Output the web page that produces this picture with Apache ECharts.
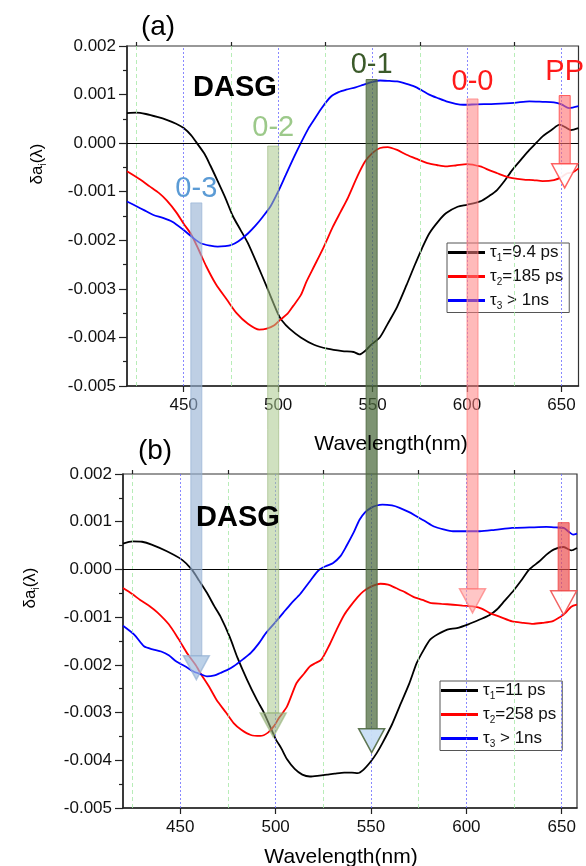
<!DOCTYPE html>
<html>
<head>
<meta charset="utf-8">
<script src="https://cdn.jsdelivr.net/npm/echarts@6/dist/echarts.min.js"></script>
<style>
html, body { margin: 0; padding: 0; background: #fff; }
#chart { width: 586px; height: 866px; }
</style>
</head>
<body>
<div id="chart"></div>
<script>
// amplitudes are in units of 1e-3, wavelengths in nm
const xMajor = [450, 500, 550, 600, 650];
const xMinor = [425, 475, 525, 575, 625];

// panel (a)
const aWave1 = [420, 425, 430, 436, 441, 446, 450, 454, 457, 461, 464, 468, 472, 476, 480, 484, 489, 494, 500, 502, 506, 512, 519, 526, 534, 540, 543, 546, 549, 554, 558, 563, 568, 572, 576, 580, 585, 589, 595, 600, 607, 612, 616, 620, 624, 629, 633, 637, 640, 645, 649, 652, 655, 659];
const aVal1 = [0.62, 0.63, 0.6, 0.54, 0.48, 0.4, 0.31, 0.16, 0.0, -0.22, -0.45, -0.78, -1.12, -1.5, -1.78, -2.06, -2.5, -2.96, -3.52, -3.65, -3.82, -4.0, -4.15, -4.23, -4.28, -4.3, -4.35, -4.28, -4.16, -3.99, -3.72, -3.37, -2.92, -2.54, -2.18, -1.86, -1.6, -1.44, -1.31, -1.27, -1.2, -1.08, -0.96, -0.77, -0.55, -0.32, -0.14, 0.02, 0.14, 0.28, 0.38, 0.33, 0.27, 0.31];
const aWave2 = [420, 427, 432, 437, 441, 446, 450, 454, 458, 462, 467, 473, 478, 484, 490, 494, 498, 501, 505, 508, 512, 515, 519, 524, 529, 533, 537, 542, 546, 550, 554, 558, 563, 568, 573, 579, 584, 589, 594, 600, 607, 612, 616, 620, 624, 630, 635, 640, 646, 650, 653, 656, 659];
const aVal2 = [-0.58, -0.75, -0.89, -1.03, -1.18, -1.42, -1.66, -1.88, -2.2, -2.54, -2.9, -3.23, -3.5, -3.72, -3.84, -3.82, -3.75, -3.64, -3.51, -3.35, -3.13, -2.85, -2.54, -2.15, -1.72, -1.42, -1.12, -0.68, -0.38, -0.2, -0.1, -0.08, -0.14, -0.24, -0.32, -0.41, -0.45, -0.48, -0.46, -0.43, -0.48, -0.56, -0.62, -0.68, -0.72, -0.75, -0.76, -0.78, -0.76, -0.7, -0.62, -0.6, -0.52];
const aWave3 = [420, 425, 429, 434, 439, 444, 450, 455, 459, 464, 468, 472, 475, 479, 484, 488, 492, 496, 500, 504, 508, 512, 516, 519, 523, 528, 532, 536, 541, 545, 550, 554, 559, 563, 568, 572, 576, 580, 585, 589, 594, 598, 605, 615, 625, 633, 640, 646, 650, 654, 659];
const aVal3 = [-1.2, -1.3, -1.38, -1.48, -1.54, -1.62, -1.79, -1.95, -2.06, -2.11, -2.13, -2.12, -2.1, -2.02, -1.86, -1.7, -1.51, -1.3, -1.0, -0.66, -0.32, 0.0, 0.3, 0.48, 0.72, 0.96, 1.05, 1.1, 1.15, 1.2, 1.26, 1.29, 1.28, 1.27, 1.22, 1.17, 1.09, 1.0, 0.92, 0.86, 0.81, 0.79, 0.8, 0.81, 0.83, 0.86, 0.85, 0.84, 0.8, 0.72, 0.76];

// panel (b)
const bWave1 = [420, 425, 430, 435, 443, 451, 456, 460, 464, 468, 471, 476, 480, 485, 490, 494, 500, 503, 506, 510, 514, 518, 523, 527, 531, 536, 540, 543, 546, 550, 553, 556, 561, 565, 570, 574, 578, 581, 585, 590, 595, 601, 607, 612, 616, 620, 625, 629, 633, 638, 642, 646, 651, 655, 658];
const bVal1 = [0.54, 0.59, 0.58, 0.52, 0.38, 0.2, 0.0, -0.24, -0.49, -0.78, -0.98, -1.42, -1.85, -2.31, -2.72, -3.01, -3.55, -3.75, -3.98, -4.18, -4.3, -4.34, -4.32, -4.3, -4.28, -4.26, -4.26, -4.27, -4.2, -4.02, -3.85, -3.64, -3.25, -2.87, -2.4, -1.96, -1.66, -1.47, -1.36, -1.26, -1.23, -1.15, -1.05, -0.96, -0.84, -0.66, -0.43, -0.22, 0.0, 0.16, 0.31, 0.42, 0.47, 0.4, 0.45];
const bWave2 = [420, 425, 429, 434, 438, 444, 449, 454, 458, 461, 465, 469, 474, 478, 482, 487, 492, 496, 499, 502, 506, 511, 515, 518, 521, 524, 528, 532, 536, 539, 543, 546, 550, 555, 559, 563, 568, 572, 577, 581, 587, 593, 598, 604, 608, 612, 618, 624, 630, 635, 640, 645, 649, 652, 655, 658];
const bVal2 = [-0.39, -0.52, -0.64, -0.77, -0.9, -1.15, -1.45, -1.78, -2.0, -2.2, -2.45, -2.73, -3.0, -3.22, -3.36, -3.47, -3.49, -3.42, -3.29, -3.1, -2.87, -2.38, -2.18, -2.03, -1.96, -1.89, -1.6, -1.26, -0.95, -0.78, -0.58, -0.46, -0.36, -0.3, -0.32, -0.39, -0.48, -0.57, -0.64, -0.7, -0.72, -0.74, -0.76, -0.78, -0.82, -0.91, -1.0, -1.09, -1.12, -1.14, -1.12, -1.09, -1.0, -0.91, -0.78, -0.74];
const bWave3 = [420, 426, 431, 436, 440, 444, 448, 453, 457, 461, 464, 468, 471, 475, 478, 483, 487, 491, 495, 500, 504, 508, 513, 517, 520, 523, 527, 530, 534, 537, 541, 544, 547, 550, 553, 556, 561, 565, 570, 574, 578, 583, 588, 593, 600, 607, 615, 624, 633, 642, 647, 651, 654, 656, 658];
const bVal3 = [-1.18, -1.37, -1.61, -1.68, -1.72, -1.8, -1.93, -2.04, -2.14, -2.2, -2.24, -2.22, -2.17, -2.1, -2.03, -1.88, -1.75, -1.56, -1.33, -1.1, -0.91, -0.72, -0.51, -0.3, -0.14, 0.0, 0.08, 0.13, 0.28, 0.48, 0.78, 1.04, 1.2, 1.29, 1.34, 1.36, 1.34, 1.29, 1.2, 1.11, 1.02, 0.9, 0.84, 0.8, 0.8, 0.8, 0.83, 0.87, 0.88, 0.89, 0.88, 0.87, 0.78, 0.73, 0.75];

const namesA = ['τ1=9.4 ps', 'τ2=185 ps', 'τ3 > 1ns'];
const namesB = ['τ1=11 ps', 'τ2=258 ps', 'τ3 > 1ns '];
const lineColors = ['#000000', '#ff0000', '#0000ff'];

// vibronic arrows: wavelength, start (grid, value) and tip (grid, value)
const arrowNames = ['0-3', '0-2', '0-1', '0-0', 'PP', ''];
const arrowWave = [456.7, 497.4, 549.5, 602.9, 651.7, 651];
const arrowFromGrid = [0, 0, 0, 0, 0, 1];
const arrowFromVal = [-1.23, -0.06, 1.31, 0.91, 0.98, 0.98];
const arrowToGrid = [1, 1, 1, 1, 0, 1];
const arrowToVal = [-2.31, -3.51, -3.84, -0.91, -0.92, -0.95];
const arrowLabelGap = [14, 18, 15, 17, 24, 0];
const arrowShaft = ['rgba(150,178,212,0.62)', 'rgba(170,200,140,0.55)', 'rgba(75,105,60,0.72)', 'rgba(255,130,130,0.55)', 'rgba(255,110,110,0.6)', 'rgba(235,80,80,0.7)'];
const arrowHead = ['rgba(160,190,222,0.7)', 'rgba(150,175,125,0.6)', 'rgba(200,222,245,0.95)', 'rgba(255,160,160,0.6)', 'rgba(255,255,255,0.9)', 'rgba(255,255,255,0.9)'];
const arrowEdge = ['rgba(150,178,212,0.7)', 'rgba(150,180,120,0.6)', 'rgba(80,105,65,0.9)', 'rgba(255,120,120,0.7)', 'rgba(255,70,70,0.85)', 'rgba(240,70,70,0.85)'];
const labelColors = ['#5b9bd5', '#9cc98a', '#3b5a2a', '#ff1a1a', '#ff1a1a', '#ff1a1a'];

const font = '"Liberation Sans", Arial, sans-serif';
const rich = {
  t: { fontSize: 17, fontFamily: font, color: '#111', lineHeight: 22 },
  s: { fontSize: 10, fontFamily: font, color: '#111', lineHeight: 10, verticalAlign: 'bottom' }
};

function richName(name) {
  const m = name.trim().match(/^τ(\d)(.*)$/);
  return '{t|τ}{s|' + m[1] + '}{t|' + m[2] + '}';
}

function pairs(w, v) {
  return w.map((x, i) => [x, v[i]]);
}

const tickStyle = { color: '#222', width: 1.2 };

function xAxes(gi, max) {
  return [{
    type: 'value', gridIndex: gi, min: 420, max: max,
    axisLine: { onZero: false, lineStyle: { color: '#222', width: 1.5 } },
    axisTick: { customValues: xMajor, length: 6, lineStyle: tickStyle },
    axisLabel: { customValues: xMajor, color: '#111', fontSize: 17, fontFamily: font, margin: 11 },
    splitLine: { show: false }
  }, {
    type: 'value', gridIndex: gi, min: 420, max: max,
    axisLine: { show: false, onZero: false },
    axisTick: { customValues: xMinor, length: 4, lineStyle: tickStyle },
    axisLabel: { show: false },
    splitLine: { show: false }
  }];
}

function yAxis(gi) {
  return {
    type: 'value', gridIndex: gi, min: -5, max: 2, interval: 1,
    axisLine: { show: true, onZero: false, lineStyle: { color: '#222', width: 1.5 } },
    axisTick: { show: true, length: 8, lineStyle: tickStyle },
    minorTick: { show: true, splitNumber: 2, length: 4, lineStyle: tickStyle },
    axisLabel: { formatter: v => (v / 1000).toFixed(3), color: '#111', fontSize: 17, fontFamily: font, margin: 11 },
    splitLine: { show: false }
  };
}

function refLines() {
  const major = xMajor.map(v => ({ xAxis: v, lineStyle: { color: '#6a6aff', type: [2, 2], width: 0.8 } }));
  const minor = xMinor.map(v => ({ xAxis: v, lineStyle: { color: '#a6e8a6', type: [4, 3], width: 0.8 } }));
  return {
    silent: true, symbol: ['none', 'none'], label: { show: false },
    data: major.concat(minor).concat([{ yAxis: 0, lineStyle: { color: '#000', type: 'solid', width: 1 } }])
  };
}

function curves(names, waves, vals, xi, yi) {
  return names.map((n, i) => ({
    name: n, type: 'line', xAxisIndex: xi, yAxisIndex: yi,
    data: pairs(waves[i], vals[i]),
    showSymbol: false, symbol: 'none', smooth: 0.25,
    lineStyle: { color: lineColors[i], width: 1.8 },
    itemStyle: { color: lineColors[i] }
  }));
}

function legend(names, left, top) {
  return {
    data: names, orient: 'vertical', left: left, top: top,
    icon: 'rect', itemWidth: 37, itemHeight: 3, itemGap: 4.5, itemTextGap: 2,
    padding: [1, 6, 1, 1], borderColor: '#555', borderWidth: 1,
    selectedMode: false, formatter: richName,
    textStyle: { rich: rich }
  };
}

const chart = echarts.init(document.getElementById('chart'));
chart.setOption({
  animation: false,
  backgroundColor: '#fff',
  grid: [
    { left: 127, top: 46, width: 451.5, height: 340, show: true, borderColor: '#333', borderWidth: 1.2, backgroundColor: 'transparent' },
    { left: 123, top: 474, width: 454, height: 334, show: true, borderColor: '#333', borderWidth: 1.2, backgroundColor: 'transparent' }
  ],
  xAxis: xAxes(0, 659).concat(xAxes(1, 658)),
  yAxis: [yAxis(0), yAxis(1)],
  legend: [legend(namesA, 447, 243), legend(namesB, 440, 681)],
  series: [{ type: 'line', xAxisIndex: 0, yAxisIndex: 0, data: [], markLine: refLines() }]
    .concat(curves(namesA, [aWave1, aWave2, aWave3], [aVal1, aVal2, aVal3], 0, 0))
    .concat([{ type: 'line', xAxisIndex: 2, yAxisIndex: 1, data: [], markLine: refLines() }])
    .concat(curves(namesB, [bWave1, bWave2, bWave3], [bVal1, bVal2, bVal3], 2, 1))
});

function finder(g) {
  return g === 0 ? { xAxisIndex: 0, yAxisIndex: 0 } : { xAxisIndex: 2, yAxisIndex: 1 };
}

const els = [];
function addText(text, x, y, size, weight) {
  els.push({
    type: 'text', x: x, y: y, z: 200,
    style: { text: text, font: (weight || '') + ' ' + size + 'px ' + font, fill: '#000', textAlign: 'center', textVerticalAlign: 'middle' }
  });
}

// arrows
arrowWave.forEach((w, i) => {
  const p0 = chart.convertToPixel(finder(arrowFromGrid[i]), [w, arrowFromVal[i]]);
  const p1 = chart.convertToPixel(finder(arrowToGrid[i]), [w, arrowToVal[i]]);
  const x = p0[0], top = p0[1], tip = p1[1];
  const hw = 13, hl = 24, sw = 5.5;
  els.push({
    type: 'rect', z: 100,
    shape: { x: x - sw, y: top, width: 2 * sw, height: tip - hl - top },
    style: { fill: arrowShaft[i], stroke: arrowEdge[i], lineWidth: 1 }
  });
  els.push({
    type: 'polygon', z: 101,
    shape: { points: [[x - hw, tip - hl], [x + hw, tip - hl], [x, tip]] },
    style: { fill: arrowHead[i], stroke: arrowEdge[i], lineWidth: 1.5 }
  });
  if (arrowNames[i]) {
    els.push({
      type: 'text', x: x, y: top - arrowLabelGap[i], z: 150,
      style: { text: arrowNames[i], font: '29px ' + font, fill: labelColors[i], textAlign: 'center', textVerticalAlign: 'middle' }
    });
  }
});

addText('(a)', 158, 27, 28);
addText('(b)', 155, 451, 28);
addText('DASG', 235, 88, 29, 'bold');
addText('DASG', 238, 518, 29, 'bold');
addText('Wavelength(nm)', 391, 444, 21);
addText('Wavelength(nm)', 341, 857, 21);

const yName = '{t|δa}{s|i}{t|(λ)}';
[[37, 164], [30, 588]].forEach(p => {
  els.push({
    type: 'text', x: p[0], y: p[1], rotation: Math.PI / 2, z: 200,
    style: { text: yName, rich: rich, textAlign: 'center', textVerticalAlign: 'middle' }
  });
});

chart.setOption({ graphic: els });
</script>
</body>
</html>
